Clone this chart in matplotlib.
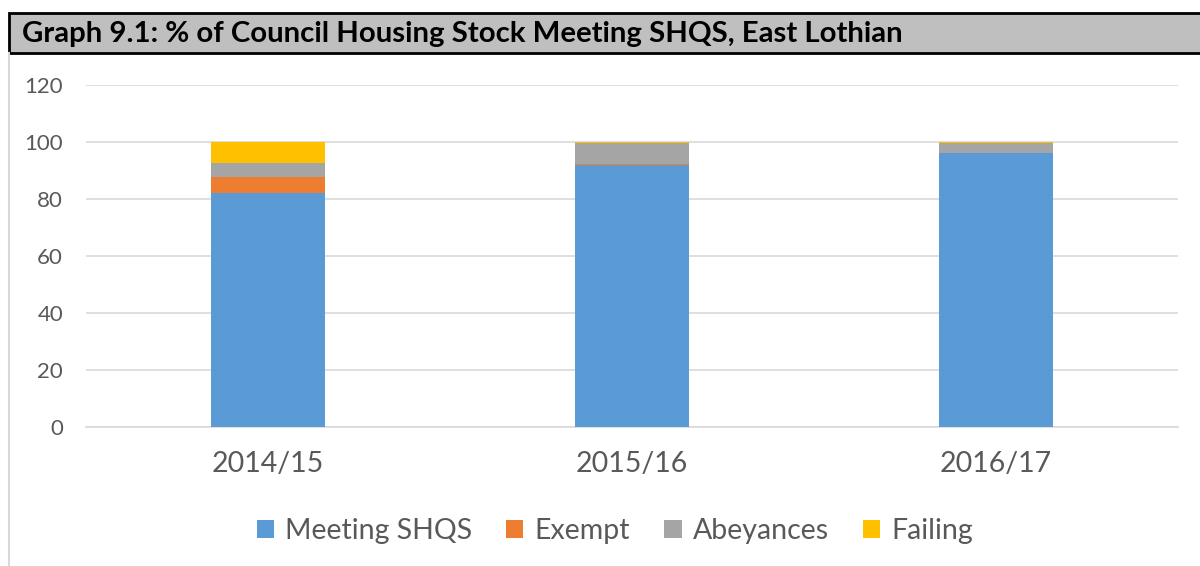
from matplotlib import pyplot as plt
from matplotlib.patches import Rectangle
from matplotlib.lines import Line2D
import numpy as np

plt.rcParams['font.family'] = ['Lato', 'DejaVu Sans']

years = ["2014/15", "2015/16", "2016/17"]
meeting = [82.0, 92.1, 96.0]
exempt = [5.8, 0.2, 0.3]
abeyances = [5.0, 7.4, 3.3]
failing = [7.2, 0.3, 0.4]

series_names = ["Meeting SHQS", "Exempt", "Abeyances", "Failing"]
colores = ["#5B9BD5", "#ED7D31", "#A5A5A5", "#FFC000"]

fig = plt.figure(figsize=(12, 5.66), dpi=100)
ax = fig.add_axes([86/1200, 1 - 427/566, 1092/1200, 342/566])

x = np.arange(len(years))
bottom = np.zeros(len(years))
for vals, nombre, col in zip([meeting, exempt, abeyances, failing], series_names, colores):
    ax.bar(x, vals, width=0.313, bottom=bottom, color=col, label=nombre, zorder=3)
    bottom += np.array(vals)

ax.set_xlim(-0.5, 2.5)
ax.set_ylim(0, 120)
ax.set_yticks(range(0, 121, 20))
ax.set_xticks(x)
ax.set_xticklabels(years)
ax.grid(axis='y', color='#D9D9D9', linewidth=1.2, zorder=0)
for s in ['top', 'right', 'left']:
    ax.spines[s].set_visible(False)
ax.spines['bottom'].set_color('#D9D9D9')
ax.spines['bottom'].set_linewidth(1.2)
ax.tick_params(axis='y', length=0, labelsize=16, labelcolor='#595959', pad=16.5)
ax.tick_params(axis='x', length=0, labelsize=20.5, labelcolor='#595959', pad=17)

# caja del titulo
fig.patches.append(Rectangle((9/1200, 1 - 53/566), 1.0, 40/566, transform=fig.transFigure,
                             facecolor='#BFBFBF', edgecolor='black', linewidth=2, zorder=0))
fig.text(22/1200, 1 - 34/566, "Graph 9.1: % of Council Housing Stock Meeting SHQS, East Lothian",
         fontsize=21.2, fontweight='bold', va='center', ha='left')
fig.lines.append(Line2D([9/1200, 9/1200], [0, 1 - 53/566], transform=fig.transFigure,
                        color='#D9D9D9', linewidth=1.5))

fig.legend(loc='center', bbox_to_anchor=(615/1200, 1 - 531/566), ncol=4, frameon=False,
           fontsize=20.5, labelcolor='#595959', handlelength=0.6, handleheight=0.6,
           handletextpad=0.4, columnspacing=1.2)

plt.savefig("out.png", dpi=100)
